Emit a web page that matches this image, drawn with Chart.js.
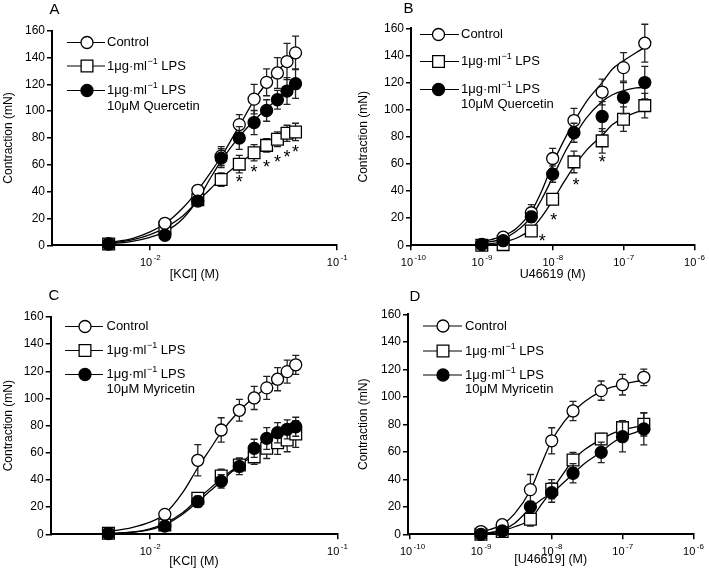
<!DOCTYPE html>
<html><head><meta charset="utf-8">
<script src="https://cdn.jsdelivr.net/npm/chart.js@4.4.1/dist/chart.umd.min.js"></script>
<style>
html,body{margin:0;padding:0;background:#fff;}
#wrap{position:relative;width:709px;height:572px;background:#fff;overflow:hidden;}
canvas{position:absolute;}
</style></head><body>
<div id="wrap">
<canvas id="cA" width="355" height="285" style="left:0px;top:0px;width:355px;height:285px"></canvas>
<canvas id="cB" width="354" height="285" style="left:355px;top:0px;width:354px;height:285px"></canvas>
<canvas id="cC" width="355" height="287" style="left:0px;top:285px;width:355px;height:287px"></canvas>
<canvas id="cD" width="354" height="287" style="left:355px;top:285px;width:354px;height:287px"></canvas>
</div>
<script>
// ---------------- DATA ----------------
// Panel A : KCl, LPS +/- quercetin
const A_x          = [0.006, 0.012, 0.018, 0.024, 0.030, 0.036, 0.042, 0.048, 0.054, 0.060];
const A_control    = [1, 16.4, 41, 66.5, 90, 109, 121.5, 128.5, 137, 143.5];
const A_controlErr = [1, 2, 3, 7, 7.5, 11, 10, 11.5, 13.5, 12.5];
const A_lps        = [1, 13, 34, 49, 60.5, 69, 74.5, 79, 83.5, 84.5];
const A_lpsErr     = [1, 2, 3, 5, 6.5, 6, 5, 5.5, 6, 6.5];
const A_drug       = [1, 7.5, 33, 65, 80, 91.5, 100.5, 108.5, 115, 120.5];
const A_drugErr    = [1, 2, 3, 7, 8.5, 9, 8, 7, 10, 11];
const A_fitX       = [0.006, 0.008, 0.010, 0.012, 0.015, 0.018, 0.021, 0.024, 0.030, 0.036, 0.042, 0.048, 0.054, 0.060];
const A_fitControl = [2, 5, 10, 16, 28, 41, 54, 66, 89, 108, 121, 130, 137, 143];
const A_fitLps     = [1.5, 4, 8, 13, 22, 33, 42, 50, 61, 69, 75, 79, 82, 85];
const A_fitDrug    = [1, 3, 6, 10, 20, 34, 50, 63, 81, 93, 102, 109, 115, 120];
const A_tickExp    = ['-2', '-1'];
const A_starIdx    = [4, 5, 6, 7, 8, 9];

// Panel B : U46619, LPS +/- quercetin
const B_x          = [1e-9, 2e-9, 5e-9, 1e-8, 2e-8, 5e-8, 1e-7, 2e-7];
const B_control    = [0.7, 6, 24, 64, 92, 113, 131, 149];
const B_controlErr = [1, 2, 6, 7.5, 9, 9.5, 11, 14];
const B_lps        = [0, 0.5, 10.5, 34, 61.5, 77, 93, 103];
const B_lpsErr     = [0.5, 1, 2, 4, 8, 9, 9, 9];
const B_drug       = [0.5, 3.4, 21, 52.5, 83, 95, 109, 120];
const B_drugErr    = [0.5, 1.5, 4, 6, 7, 11, 12, 12];
const B_fitX       = [1e-9, 2e-9, 3e-9, 5e-9, 7e-9, 1e-8, 1.5e-8, 2e-8, 3e-8, 5e-8, 7e-8, 1e-7, 1.5e-7, 2e-7];
const B_fitControl = [2.5, 7, 12, 25, 40, 60, 79, 91, 106, 120, 130, 136, 142, 146];
const B_fitLps     = [0.5, 2.5, 5, 12, 21, 33, 48, 58, 70, 81, 89, 94, 98, 100];
const B_fitDrug    = [1.5, 5, 10, 21, 34, 50, 69, 80, 94, 106, 111, 114, 116, 116.5];
const B_tickExp    = ['-10', '-9', '-8', '-7', '-6'];
const B_starIdx    = [2, 3, 4, 5];

// Panel C : KCl, LPS +/- myricetin
const C_x          = [0.006, 0.012, 0.018, 0.024, 0.030, 0.036, 0.042, 0.048, 0.054, 0.060];
const C_control    = [0.7, 14.7, 54.5, 76.8, 91.3, 100.4, 107.8, 114.2, 119.8, 124.8];
const C_controlErr = [1, 2, 11.5, 9, 8, 8.5, 8.5, 8.5, 8.5, 7];
const C_lps        = [0.7, 6.9, 26.5, 43, 51, 57, 63.3, 67.4, 69.4, 73.8];
const C_lpsErr     = [1, 2, 3, 5, 5, 5.5, 7.5, 8.5, 8.6, 9.8];
const C_drug       = [0.5, 6, 24, 39, 50, 63.3, 70.6, 74.8, 77.3, 79.2];
const C_drugErr    = [0.5, 2, 4, 5, 6, 6.7, 8, 7.5, 7, 7];
const C_fitX       = [0.006, 0.008, 0.010, 0.012, 0.015, 0.018, 0.021, 0.024, 0.030, 0.036, 0.042, 0.048, 0.054, 0.060];
const C_fitControl = [2, 5, 9, 15, 31, 49, 63, 75, 91, 101, 108, 114, 120, 125];
const C_fitLps     = [0.5, 1.5, 4, 8, 16, 26, 34, 41, 51, 58, 63, 67, 70, 73];
const C_fitDrug    = [0.5, 1.5, 3.5, 7, 15, 24, 32, 39, 51, 61, 69, 74, 77, 79];
const C_tickExp    = ['-2', '-1'];
const C_starIdx    = [];

// Panel D : U46619, LPS +/- myricetin
const D_x          = [1e-9, 2e-9, 5e-9, 1e-8, 2e-8, 5e-8, 1e-7, 2e-7];
const D_control    = [2, 7, 32.5, 68, 89.7, 104.5, 108.8, 114.2];
const D_controlErr = [1, 1.5, 11, 9.5, 7, 7, 7.5, 6];
const D_lps        = [0, 2, 11, 32.7, 54, 69.3, 77.6, 80];
const D_lpsErr     = [0.5, 1, 5, 7, 5.5, 4, 5, 8.5];
const D_drug       = [0, 2.4, 20, 30.3, 44.4, 59.6, 71, 76.6];
const D_drugErr    = [0.5, 1, 4, 7, 7, 7.5, 11, 11.5];
const D_fitX       = [1e-9, 2e-9, 3e-9, 5e-9, 7e-9, 1e-8, 1.5e-8, 2e-8, 3e-8, 5e-8, 7e-8, 1e-7, 1.5e-7, 2e-7];
const D_fitControl = [1.5, 7, 15, 32, 50, 68, 82, 89, 97, 104, 107, 109, 111, 112];
const D_fitLps     = [0.5, 2.5, 5.5, 11, 21, 32, 45, 54, 62, 69, 73, 76, 78, 79];
const D_fitDrug    = [0.5, 3, 8, 19, 25, 30, 38, 44, 52, 60, 66, 71, 74, 77];
const D_tickExp    = ['-10', '-9', '-8', '-7', '-6'];
const D_starIdx    = [];

const Y_TICKS   = [0, 20, 40, 60, 80, 100, 120, 140, 160];
const Y_TITLE   = 'Contraction (mN)';
const LBL_CONTROL = 'Control';
const LBL_LPS     = ['1μg·ml', '−1', ' LPS'];
const LBL_QUER    = '10μM Quercetin';
const LBL_MYRI    = '10μM Myricetin';

// ---------------- LAYOUT / STYLE ----------------
const FONT = "'Liberation Sans', Arial, Helvetica, sans-serif";
Chart.defaults.font.family = FONT;
Chart.defaults.color = '#000';

const PANELS = {
  cA: {letter:'A', letterXY:[49.5,13.5], xTitle:'[KCl] (M)', xMin:Math.pow(10,-2.525), xMax:0.1,
       wy:52, hx:39.7, padT:30.7, padR:18, titlePadB:3.3,
       x:A_x, ctrl:A_control, ctrlErr:A_controlErr, lps:A_lps, lpsErr:A_lpsErr, drug:A_drug, drugErr:A_drugErr,
       fitX:A_fitX, fitCtrl:A_fitControl, fitLps:A_fitLps, fitDrug:A_fitDrug, tickExp:A_tickExp,
       stars:A_starIdx, starDx:[0,0,0,0,0,0], starDy:[14,15,17,18,19,16],
       leg:{rows:[42.5,66,90.5], x1:67, x2:105, mx:87, tx:107, gap:15.5}, drugName:LBL_QUER},
  cB: {letter:'B', letterXY:[48.5,12.7], xTitle:'U46619 (M)', xMin:1e-10, xMax:1e-6,
       wy:56, hx:39.7, padT:28.3, padR:14.7, titlePadB:3.1,
       x:B_x, ctrl:B_control, ctrlErr:B_controlErr, lps:B_lps, lpsErr:B_lpsErr, drug:B_drug, drugErr:B_drugErr,
       fitX:B_fitX, fitCtrl:B_fitControl, fitLps:B_fitLps, fitDrug:B_fitDrug, tickExp:B_tickExp,
       stars:B_starIdx, starDx:[11,1,2,0], starDy:[6,17,19,17],
       leg:{rows:[34.5,61.5,89.5], x1:65, x2:104, mx:83.5, tx:106, gap:14.5}, drugName:LBL_QUER},
  cC: {letter:'C', letterXY:[48.5,15], xTitle:'[KCl] (M)', xMin:Math.pow(10,-2.53), xMax:0.1,
       wy:50.7, hx:37.7, padT:32, padR:17.7, titlePadB:3.1,
       x:C_x, ctrl:C_control, ctrlErr:C_controlErr, lps:C_lps, lpsErr:C_lpsErr, drug:C_drug, drugErr:C_drugErr,
       fitX:C_fitX, fitCtrl:C_fitControl, fitLps:C_fitLps, fitDrug:C_fitDrug, tickExp:C_tickExp,
       stars:C_starIdx, starDx:[], starDy:[],
       leg:{rows:[41.5,65.5,89.5], x1:65, x2:103, mx:85, tx:106.5, gap:15}, drugName:LBL_MYRI},
  cD: {letter:'D', letterXY:[54.5,15.7], xTitle:'[U46619] (M)', xMin:Math.pow(10,-10.03), xMax:1e-6,
       wy:53, hx:37.7, padT:29.3, padR:15.7, titlePadB:4.8,
       x:D_x, ctrl:D_control, ctrlErr:D_controlErr, lps:D_lps, lpsErr:D_lpsErr, drug:D_drug, drugErr:D_drugErr,
       fitX:D_fitX, fitCtrl:D_fitControl, fitLps:D_fitLps, fitDrug:D_fitDrug, tickExp:D_tickExp,
       stars:D_starIdx, starDx:[], starDy:[],
       leg:{rows:[41,66,90], x1:68, x2:107, mx:88, tx:110, gap:14.5}, drugName:LBL_MYRI}
};

const STYLE = {
  ctrl: {pointStyle:'circle', radius:6,   fill:'#fff'},
  lps:  {pointStyle:'rect',   radius:8.3, fill:'#fff'},
  drug: {pointStyle:'circle', radius:6,   fill:'#000'}
};

function drawMarker(ctx, st, x, y) {
  ctx.save();
  ctx.fillStyle = st.fill; ctx.strokeStyle = '#000'; ctx.lineWidth = 1.3;
  Chart.helpers.drawPoint(ctx, {pointStyle: st.pointStyle, radius: st.radius, rotation: 0, borderWidth: 1.3}, x, y);
  ctx.restore();
}

const customPlugin = {
  id: 'panelExtras',
  beforeDatasetDraw(chart, args) {
    const ds = chart.data.datasets[args.index];
    if (!ds.err) return;
    const xs = chart.scales.x, ys = chart.scales.y, ctx = chart.ctx;
    ctx.save();
    ctx.strokeStyle = '#222'; ctx.lineWidth = 1.3;
    ds.data.forEach((p, i) => {
      const e = ds.err[i];
      if (!e) return;
      const px = xs.getPixelForValue(p.x);
      const yt = ys.getPixelForValue(p.y + e);
      const yb = ys.getPixelForValue(Math.max(0, p.y - e));
      ctx.beginPath();
      ctx.moveTo(px, yt); ctx.lineTo(px, yb);
      ctx.moveTo(px - 3.5, yt); ctx.lineTo(px + 3.5, yt);
      ctx.moveTo(px - 3.5, yb); ctx.lineTo(px + 3.5, yb);
      ctx.stroke();
    });
    ctx.restore();
  },
  afterDraw(chart) {
    const P = PANELS[chart.canvas.id];
    const ctx = chart.ctx, xs = chart.scales.x, ys = chart.scales.y;
    const bottom = chart.chartArea.bottom;
    ctx.save();
    ctx.fillStyle = '#000';
    // x tick labels 10^n
    P.tickExp.forEach(ex => {
      const px = xs.getPixelForValue(Math.pow(10, Number(ex)));
      ctx.font = '11px ' + FONT; ctx.textAlign = 'right'; ctx.textBaseline = 'alphabetic';
      ctx.fillText('10', px + 2, bottom + 20.8);
      ctx.font = '8px ' + FONT; ctx.textAlign = 'left';
      ctx.fillText(ex, px + 3.5, bottom + 14.8);
    });
    // asterisks
    ctx.font = '18px ' + FONT; ctx.textAlign = 'center'; ctx.textBaseline = 'alphabetic';
    P.stars.forEach((idx, k) => {
      const px = xs.getPixelForValue(P.x[idx]) + P.starDx[k];
      const py = ys.getPixelForValue(P.lps[idx]) + P.starDy[k];
      ctx.fillText('*', px, py + 10.3);
    });
    // panel letter
    ctx.font = '15px ' + FONT; ctx.textAlign = 'left'; ctx.textBaseline = 'alphabetic';
    ctx.fillText(P.letter, P.letterXY[0], P.letterXY[1]);
    // legend
    const L = P.leg;
    const keys = ['ctrl', 'lps', 'drug'];
    keys.forEach((k, r) => {
      const y = L.rows[r];
      ctx.strokeStyle = '#000'; ctx.lineWidth = 1.2;
      ctx.beginPath(); ctx.moveTo(L.x1, y); ctx.lineTo(L.x2, y); ctx.stroke();
      drawMarker(ctx, STYLE[k], L.mx, y);
      ctx.fillStyle = '#000'; ctx.textAlign = 'left'; ctx.textBaseline = 'middle';
      if (k === 'ctrl') {
        ctx.font = '13px ' + FONT; ctx.fillText(LBL_CONTROL, L.tx, y);
      } else {
        let x = L.tx;
        ctx.font = '13px ' + FONT; ctx.fillText(LBL_LPS[0], x, y); x += ctx.measureText(LBL_LPS[0]).width + 0.5;
        ctx.font = '9px ' + FONT; ctx.fillText(LBL_LPS[1], x, y - 4.5); x += ctx.measureText(LBL_LPS[1]).width;
        ctx.font = '13px ' + FONT; ctx.fillText(LBL_LPS[2], x, y);
        if (k === 'drug') ctx.fillText(P.drugName, L.tx, y + L.gap);
      }
    });
    ctx.restore();
  }
};

function pts(xa, ya) { return xa.map((x, i) => ({x: x, y: ya[i]})); }

function build(id) {
  const P = PANELS[id];
  const curve = (ya) => ({data: pts(P.fitX, ya), showLine: true, pointRadius: 0, borderColor: '#000',
    borderWidth: 1.3, cubicInterpolationMode: 'monotone', fill: false, order: 10, clip: false});
  const series = (ya, ea, st, order) => ({data: pts(P.x, ya), err: ea, showLine: false,
    pointStyle: st.pointStyle, pointRadius: st.radius, pointBackgroundColor: st.fill,
    pointBorderColor: '#000', pointBorderWidth: 1.3, order: order, clip: false});
  const gridOpt = {display: true, drawOnChartArea: false, drawTicks: true, tickLength: 5, color: '#000', tickColor: '#000', lineWidth: 1.5};
  new Chart(document.getElementById(id), {
    type: 'scatter',
    data: {datasets: [
      curve(P.fitCtrl), curve(P.fitLps), curve(P.fitDrug),
      series(P.lps, P.lpsErr, STYLE.lps, 3),
      series(P.ctrl, P.ctrlErr, STYLE.ctrl, 2),
      series(P.drug, P.drugErr, STYLE.drug, 1)
    ]},
    options: {
      responsive: false, animation: false, events: [],
      layout: {padding: {left: 0, right: P.padR, top: P.padT, bottom: 0}},
      plugins: {legend: {display: false}, tooltip: {enabled: false}, title: {display: false}},
      scales: {
        x: {type: 'logarithmic', min: P.xMin, max: P.xMax,
            afterBuildTicks: (s) => { s.ticks = P.tickExp.map(e => ({value: Math.pow(10, Number(e))})); },
            ticks: {display: false},
            grid: gridOpt,
            border: {display: true, color: '#000', width: 2},
            title: {display: true, text: P.xTitle, font: {size: 12.5, family: FONT}, color: '#000', padding: {top: 0, bottom: P.titlePadB}},
            afterFit: (s) => { s.height = P.hx; }},
        y: {type: 'linear', min: 0, max: 160,
            afterBuildTicks: (s) => { s.ticks = Y_TICKS.map(v => ({value: v})); },
            ticks: {font: {size: 12, family: FONT}, color: '#000', padding: 2},
            grid: gridOpt,
            border: {display: true, color: '#000', width: 2},
            title: {display: true, text: Y_TITLE, font: {size: 12, family: FONT}, color: '#000', padding: {top: 1, bottom: 0}},
            afterFit: (s) => { s.width = P.wy; }}
      }
    },
    plugins: [customPlugin]
  });
}
['cA', 'cB', 'cC', 'cD'].forEach(build);
</script>
</body></html>
